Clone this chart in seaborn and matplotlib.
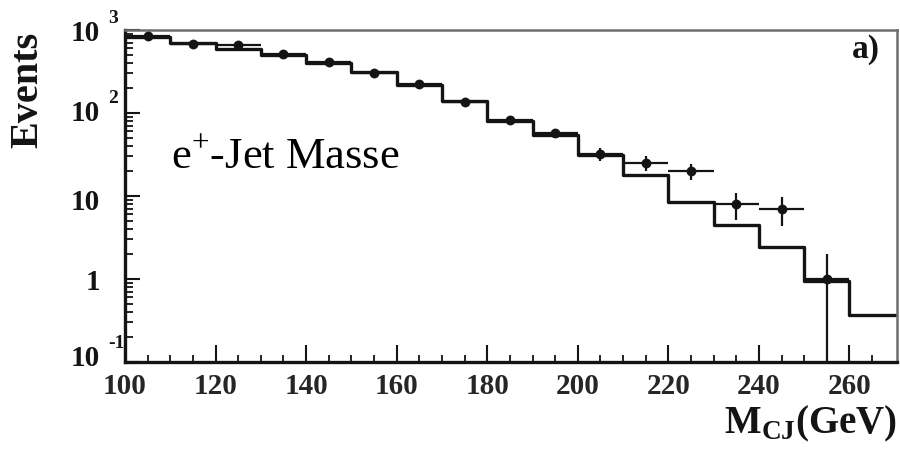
import numpy as np
import pandas as pd
import matplotlib
matplotlib.use("Agg")
import matplotlib.pyplot as plt
import seaborn as sns

# Bin edges of the e+-jet mass distribution (GeV)
bin_edges = [100, 110, 120, 130, 140, 150, 160, 170, 180, 190,
             200, 210, 220, 230, 240, 250, 260, 270]
# Monte Carlo expectation per bin (events)
mc_events = [830, 695, 590, 500, 400, 315, 217, 139, 80, 54,
             31, 18, 8.5, 4.5, 2.4, 0.94, 0.37]
# Measured data points at the bin centres
data_mass = [105, 115, 125, 135, 145, 155, 165, 175, 185, 195,
             205, 215, 225, 235, 245, 255]
data_events = [840, 680, 660, 515, 410, 302, 224, 136, 83, 57,
               32, 25, 20, 8.0, 7.0, 1.0]
data_err = [29, 26, 26, 23, 20, 17, 15, 12, 9, 7.5,
            5.7, 5.0, 4.5, 2.8, 2.6, 1.0]

x_ticks = [100, 120, 140, 160, 180, 200, 220, 240, 260]
y_decades = [1e-1, 1, 10, 1e2, 1e3]
y_base = ["10", "1", "10", "10", "10"]
y_expo = ["-1", "", "", "2", "3"]

sns.set_theme(style="white")
plt.rcParams["font.family"] = ["Liberation Serif", "DejaVu Serif"]
plt.rcParams["mathtext.fontset"] = "custom"
plt.rcParams["mathtext.rm"] = "Liberation Serif"
plt.rcParams["mathtext.bf"] = "Liberation Serif:bold"

fig = plt.figure(figsize=(9, 4.52), dpi=100)
ax = fig.add_axes([125 / 900, 1 - 363 / 452, 772 / 900, 332 / 452])

ink = "#141414"

mc = pd.DataFrame({"centre": np.array(bin_edges[:-1]) + 5, "events": mc_events})
sns.histplot(data=mc, x="centre", weights="events", bins=bin_edges,
             element="step", fill=False, color=ink, linewidth=2.4, ax=ax)

ax.errorbar(data_mass, data_events, xerr=5, yerr=data_err, fmt="none",
            ecolor=ink, elinewidth=1.6, capsize=0, zorder=3)
sns.scatterplot(x=data_mass, y=data_events, color=ink, s=50,
                edgecolor=ink, linewidth=0, zorder=4, ax=ax)

ax.set_yscale("log")
ax.set_xlim(100, 270.5)
ax.set_ylim(0.1, 1000)
ax.set_xlabel("")
ax.set_ylabel("")

# Axis frame
for side in ("left", "bottom"):
    ax.spines[side].set_color(ink)
    ax.spines[side].set_linewidth(2.4)
for side in ("top", "right"):
    ax.spines[side].set_color("#6e6e6e")
    ax.spines[side].set_linewidth(1.8)

# x ticks
ax.set_xticks(x_ticks)
ax.set_xticks(np.arange(105, 270, 5), minor=True)
ax.set_xticklabels([str(t) for t in x_ticks], fontsize=21, fontweight="bold")
ax.tick_params(axis="x", which="major", direction="in", length=12, width=1.5,
               color=ink, pad=7, bottom=True, top=False)
ax.tick_params(axis="x", which="minor", direction="in", length=5, width=1.3,
               color=ink, bottom=True, top=False)

# y ticks, labels drawn as base + raised exponent
ax.set_yticks(y_decades)
ax.yaxis.set_minor_locator(matplotlib.ticker.LogLocator(base=10, subs=np.arange(2, 10)))
ax.yaxis.set_minor_formatter(matplotlib.ticker.NullFormatter())
ax.set_yticklabels([])
ax.tick_params(axis="y", which="major", direction="in", length=11, width=1.5,
               color=ink, left=True, right=False)
ax.tick_params(axis="y", which="minor", direction="in", length=6, width=1.3,
               color=ink, left=True, right=False)

label_shift = [3, -1.5, -4, 0, -2]
for val, base, expo, dy in zip(y_decades, y_base, y_expo, label_shift):
    ax.annotate(base, xy=(0, val), xycoords=("axes fraction", "data"),
                xytext=(-18, dy), textcoords="offset points",
                ha="right", va="center", fontsize=21, fontweight="bold",
                color=ink, annotation_clip=False)
    if expo:
        ax.annotate(expo, xy=(0, val), xycoords=("axes fraction", "data"),
                    xytext=(-12, dy + 11), textcoords="offset points",
                    ha="left", va="center", fontsize=14, fontweight="bold",
                    color=ink, annotation_clip=False)

ax.text(0.978, 0.943, "a)", transform=ax.transAxes, ha="right", va="center",
        fontsize=24, fontweight="bold", color=ink)
ax.text(0.06, 0.588, r"e$^{+}$-Jet Masse", transform=ax.transAxes,
        ha="left", va="baseline", fontsize=32, color="black")

fig.text(28 / 900, 1 - 90 / 452, "Events", rotation=90, ha="center",
         va="center", fontsize=29, fontweight="bold", color=ink)
fig.text(897 / 900, 1 - 433 / 452, r"M$_{\mathbf{CJ}}$(GeV)", ha="right",
         va="baseline", fontsize=28, fontweight="bold", color=ink)

fig.savefig("out.png", dpi=100)
